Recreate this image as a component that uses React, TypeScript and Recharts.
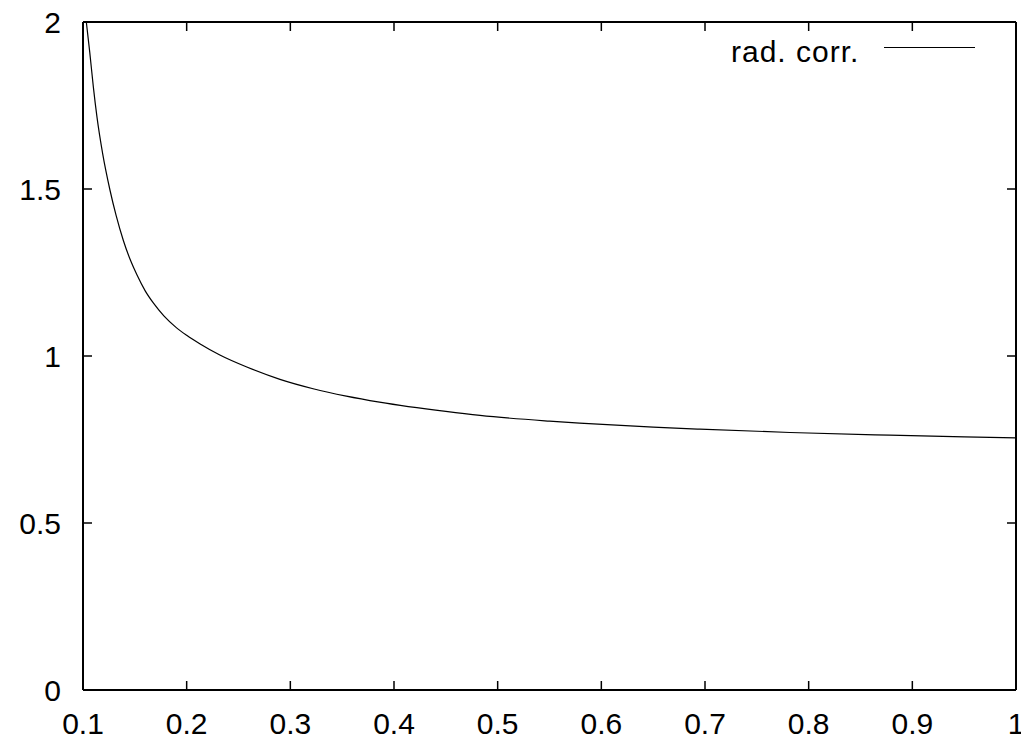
import React from "react";
import { LineChart, Line, XAxis, YAxis, Legend } from "recharts";

const xValues = [0.1032, 0.1065, 0.11, 0.1135, 0.119, 0.126, 0.132, 0.139, 0.146, 0.152, 0.16, 0.168, 0.178, 0.19, 0.2, 0.213, 0.232, 0.258, 0.29, 0.322, 0.354, 0.386, 0.45, 0.483, 0.55, 0.579, 0.65, 0.695, 0.782, 0.878, 0.95, 1.0];
const radCorr = [2.0, 1.91, 1.805, 1.715, 1.605, 1.497, 1.42, 1.345, 1.285, 1.243, 1.195, 1.158, 1.12, 1.085, 1.062, 1.036, 1.003, 0.967, 0.93, 0.902, 0.88, 0.862, 0.834, 0.822, 0.805, 0.799, 0.787, 0.781, 0.771, 0.763, 0.758, 0.755];

const xTicks = [0.1, 0.2, 0.3, 0.4, 0.5, 0.6, 0.7, 0.8, 0.9, 1.0];
const xTickLabels = ["0.1", "0.2", "0.3", "0.4", "0.5", "0.6", "0.7", "0.8", "0.9", "1"];
const yTicks = [0, 0.5, 1, 1.5, 2];
const yTickLabels = ["0", "0.5", "1", "1.5", "2"];
const seriesName = "rad. corr.";

const data = xValues.map((x, i) => ({ x, y: radCorr[i] }));

const FONT = "'Liberation Sans', Arial, Helvetica, sans-serif";
const TICK = 9;

const BottomTick = (props: any) => {
  const { x, y, index } = props;
  return (
    <g>
      <line x1={x} x2={x} y1={y} y2={y - TICK} stroke="#000" strokeWidth={1.5} />
      <text x={x} y={y + 44} textAnchor="middle" fontSize={30} fontFamily={FONT} fill="#000">
        {xTickLabels[index]}
      </text>
    </g>
  );
};

const TopTick = (props: any) => {
  const { x, y } = props;
  return <line x1={x} x2={x} y1={y} y2={y + TICK} stroke="#000" strokeWidth={1.5} />;
};

const LeftTick = (props: any) => {
  const { x, y, index } = props;
  return (
    <g>
      <line x1={x} x2={x + TICK} y1={y} y2={y} stroke="#000" strokeWidth={1.5} />
      <text x={x - 22} y={y + 11} textAnchor="end" fontSize={30} fontFamily={FONT} fill="#000">
        {yTickLabels[index]}
      </text>
    </g>
  );
};

const RightTick = (props: any) => {
  const { x, y } = props;
  return <line x1={x} x2={x - TICK} y1={y} y2={y} stroke="#000" strokeWidth={1.5} />;
};

const LegendContent = () => (
  <svg width={300} height={50} style={{ display: "block" }}>
    <text x={31} y={42} textAnchor="start" fontSize={30} letterSpacing={1} fontFamily={FONT} fill="#000">
      {seriesName}
    </text>
    <line x1={184} x2={275} y1={27.5} y2={27.5} stroke="#000" strokeWidth={1.2} />
  </svg>
);

export default function App() {
  return (
    <div style={{ position: "absolute", left: 0, top: 0, background: "#fff" }}>
      <LineChart width={1021} height={743} data={data} margin={{ top: 21, right: 4, left: 0, bottom: 0 }}>
        <XAxis
          xAxisId="bottom"
          dataKey="x"
          type="number"
          domain={[0.1, 1]}
          ticks={xTicks}
          interval={0}
          height={53}
          tickSize={0}
          tickMargin={0}
          tickLine={false}
          axisLine={{ stroke: "#000", strokeWidth: 2 }}
          tick={<BottomTick />}
          allowDataOverflow
        />
        <XAxis
          xAxisId="top"
          dataKey="x"
          type="number"
          orientation="top"
          domain={[0.1, 1]}
          ticks={xTicks}
          interval={0}
          height={1}
          tickSize={0}
          tickMargin={0}
          tickLine={false}
          axisLine={{ stroke: "#000", strokeWidth: 2 }}
          tick={<TopTick />}
          allowDataOverflow
        />
        <YAxis
          yAxisId="left"
          type="number"
          domain={[0, 2]}
          ticks={yTicks}
          interval={0}
          width={83}
          tickSize={0}
          tickMargin={0}
          tickLine={false}
          axisLine={{ stroke: "#000", strokeWidth: 2 }}
          tick={<LeftTick />}
          allowDataOverflow
        />
        <YAxis
          yAxisId="right"
          type="number"
          orientation="right"
          domain={[0, 2]}
          ticks={yTicks}
          interval={0}
          width={1}
          tickSize={0}
          tickMargin={0}
          tickLine={false}
          axisLine={{ stroke: "#000", strokeWidth: 2 }}
          tick={<RightTick />}
          allowDataOverflow
        />
        <Legend
          layout="vertical"
          align="center"
          verticalAlign="middle"
          wrapperStyle={{ position: "absolute", left: 700, top: 20, width: 300, height: 50 }}
          content={<LegendContent />}
        />
        <Line
          xAxisId="bottom"
          yAxisId="left"
          type="monotone"
          dataKey="y"
          name={seriesName}
          stroke="#000"
          strokeWidth={1.2}
          dot={false}
          activeDot={false}
          isAnimationActive={false}
        />
      </LineChart>
    </div>
  );
}
